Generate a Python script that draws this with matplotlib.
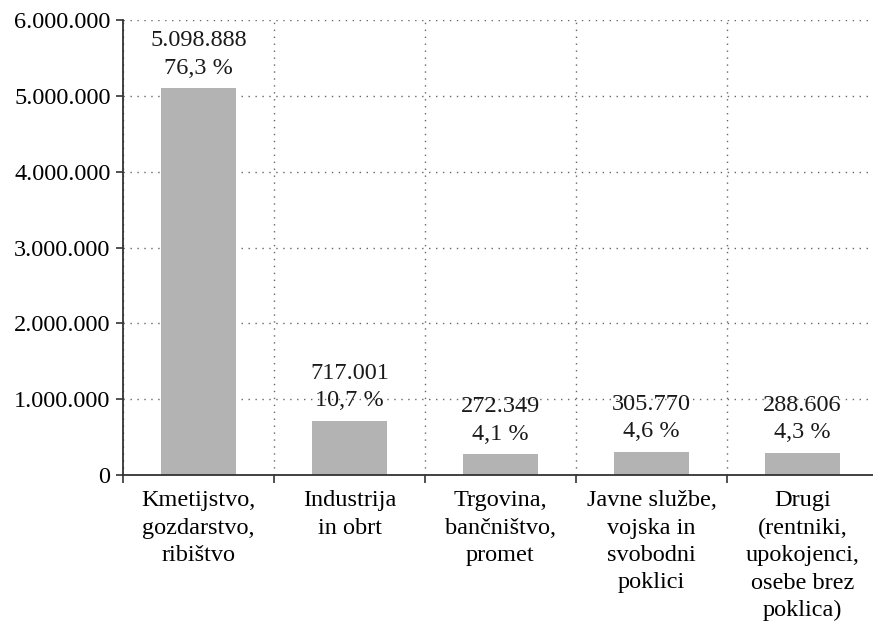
import numpy as np
import matplotlib
matplotlib.use('Agg')
import matplotlib.pyplot as plt
from matplotlib.ticker import FuncFormatter

categories = ["Kmetijstvo,\ngozdarstvo,\nribištvo",
              "Industrija\nin obrt",
              "Trgovina,\nbančništvo,\npromet",
              "Javne službe,\nvojska in\nsvobodni\npoklici",
              "Drugi\n(rentniki,\nupokojenci,\nosebe brez\npoklica)"]
values = [5098888, 717001, 272349, 305770, 288606]
shares = ["76,3 %", "10,7 %", "4,1 %", "4,6 %", "4,3 %"]
yticks = [0, 1000000, 2000000, 3000000, 4000000, 5000000, 6000000]

plt.rcParams['font.family'] = ['Liberation Serif', 'DejaVu Serif']
plt.rcParams['font.size'] = 17.5

def dots(v):
    return "{:,}".format(int(v)).replace(",", ".")

fig = plt.figure(figsize=(8.73, 6.25), dpi=100)
ax = fig.add_axes([123/873, 1-475/625, 755/873, (475-20)/625])

x = np.arange(len(values))
ax.bar(x, values, width=0.5, color='#b3b3b3', zorder=2)

for xi, v, s in zip(x, values, shares):
    ax.annotate(dots(v) + "\n" + s, (xi, v), xytext=(0, 7), textcoords='offset points',
                ha='center', va='bottom', linespacing=1.4, color='#1a1a1a', zorder=3)

ax.set_xlim(-0.5, len(values) - 0.5)
ax.set_ylim(0, 6000000)
ax.set_yticks(yticks)
ax.yaxis.set_major_formatter(FuncFormatter(lambda v, p: dots(v)))
ax.set_xticks(x)
ax.set_xticklabels(categories, linespacing=1.4)
ax.set_xticks([-0.5] + list(np.arange(len(values)) + 0.5), minor=True)

ax.tick_params(axis='x', which='major', length=0, pad=11)
ax.tick_params(axis='x', which='minor', length=6, width=1.2, color='#333333')
ax.tick_params(axis='y', length=5, width=1.2, color='#333333', pad=4)

ax.grid(axis='y', which='major', linestyle=(0, (1, 4)), color='#666666', linewidth=1, zorder=0)
ax.grid(axis='x', which='minor', linestyle=(0, (1, 4)), color='#666666', linewidth=1, zorder=0)

for side in ['top', 'right']:
    ax.spines[side].set_visible(False)
for side in ['left', 'bottom']:
    ax.spines[side].set_color('#333333')
    ax.spines[side].set_linewidth(1.3)

fig.savefig('out.png', dpi=100)
